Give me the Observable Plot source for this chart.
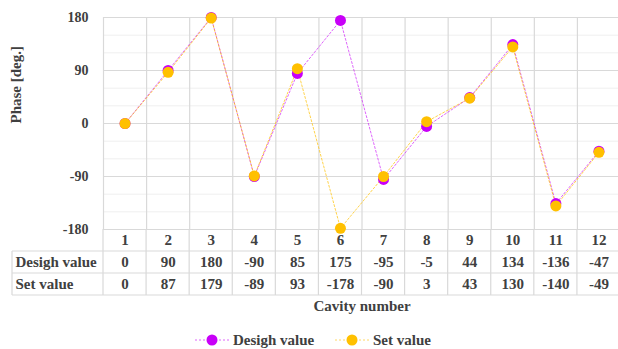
<!DOCTYPE html>
<html>
<head>
<meta charset="utf-8">
<script src="https://cdn.jsdelivr.net/npm/d3@7"></script>
<script src="https://cdn.jsdelivr.net/npm/@observablehq/plot@0.6"></script>
<style>
  html, body { margin: 0; padding: 0; background: #fff; }
  #chart svg { display: block; }
</style>
</head>
<body>
<div id="chart"></div>
<script>
const cavities = [1, 2, 3, 4, 5, 6, 7, 8, 9, 10, 11, 12];
const designValues = [0, 90, 180, -90, 85, 175, -95, -5, 44, 134, -136, -47];
const setValues = [0, 87, 179, -89, 93, -178, -90, 3, 43, 130, -140, -49];
const majorTicks = [-180, -90, 0, 90, 180];
const minorTicks = [-150, -120, -60, -30, 30, 60, 120, 150];
const seriesNames = ["Desigh value", "Set value"];
const yLabel = "Phase [deg.]";
const xLabel = "Cavity number";

const colors = { design: "#c800f8", set: "#ffc000" };
const textColor = "#404040";
const gridMajor = "#d9d9d9";
const gridMinor = "#efefef";
const font = "'Liberation Serif', 'Times New Roman', serif";

const data = cavities.map((c, i) => ({ cavity: c, design: designValues[i], set: setValues[i] }));
const boundaries = d3.range(0, cavities.length + 1).map(i => cavities[0] - 0.5 + i);

const W = 618, H = 349;
const marginLeft = 103, marginTop = 17, marginBottom = 120, marginRight = -2;
const rowH = 22;

const plot = Plot.plot({
  width: W,
  height: H,
  marginLeft, marginTop, marginBottom, marginRight,
  style: { fontFamily: font, fontWeight: "bold", color: textColor, background: "#fff", overflow: "visible" },
  x: { type: "linear", domain: [boundaries[0], boundaries[boundaries.length - 1]], axis: null },
  y: { domain: [-180, 180], axis: null },
  marks: [
    Plot.ruleY(minorTicks, { stroke: gridMinor, strokeWidth: 1 }),
    Plot.ruleY(majorTicks, { stroke: gridMajor, strokeWidth: 1.2 }),
    Plot.ruleX(boundaries, { y1: -180, y2: 180, stroke: gridMajor, strokeWidth: 1.2 }),
    Plot.axisY({ ticks: majorTicks, tickFormat: d => String(d), tickSize: 0, tickPadding: 15, fontSize: 14, fontWeight: "bold", fill: textColor, label: null }),
    Plot.line(data, { x: "cavity", y: "design", stroke: colors.design, strokeWidth: 1, strokeDasharray: "2,2", strokeOpacity: 0.6 }),
    Plot.line(data, { x: "cavity", y: "set", stroke: colors.set, strokeWidth: 1, strokeDasharray: "2,2", strokeOpacity: 0.7 }),
    Plot.dot(data, { x: "cavity", y: "design", r: 5.5, fill: colors.design }),
    Plot.dot(data, { x: "cavity", y: "set", r: 5.5, fill: colors.set }),
    Plot.text(data, { x: "cavity", text: d => String(d.cavity), frameAnchor: "bottom", lineAnchor: "middle", dy: 11, fontSize: 15, fontWeight: "bold", fill: textColor }),
    Plot.text(data, { x: "cavity", text: d => String(d.design), frameAnchor: "bottom", lineAnchor: "middle", dy: 11 + rowH, fontSize: 15, fontWeight: "bold", fill: textColor }),
    Plot.text(data, { x: "cavity", text: d => String(d.set), frameAnchor: "bottom", lineAnchor: "middle", dy: 11 + 2 * rowH, fontSize: 15, fontWeight: "bold", fill: textColor }),
    Plot.text([seriesNames[0]], { frameAnchor: "bottom-left", textAnchor: "start", lineAnchor: "middle", dx: -88, dy: 11 + rowH, fontSize: 15, fontWeight: "bold", fill: textColor }),
    Plot.text([seriesNames[1]], { frameAnchor: "bottom-left", textAnchor: "start", lineAnchor: "middle", dx: -88, dy: 11 + 2 * rowH, fontSize: 15, fontWeight: "bold", fill: textColor }),
    Plot.text([xLabel], { frameAnchor: "bottom", lineAnchor: "middle", dy: 77, fontSize: 15, fontWeight: "bold", fill: textColor }),
    Plot.text([yLabel], { frameAnchor: "left", lineAnchor: "middle", dx: -87, rotate: -90, fontSize: 15, fontWeight: "bold", fill: textColor })
  ]
});

// table frame lines (layout) using the plot's scales
const sx = plot.scale("x"), sy = plot.scale("y");
const svg = d3.select(plot);
const yBottom = sy.apply(-180);
const tableTop = yBottom + rowH;
const tableBottom = yBottom + 3 * rowH;
const tableLeft = 12;
const frame = svg.append("g").attr("stroke", gridMajor).attr("stroke-width", 1.2);
boundaries.forEach(b => {
  frame.append("line").attr("x1", sx.apply(b)).attr("x2", sx.apply(b)).attr("y1", yBottom).attr("y2", tableBottom);
});
frame.append("line").attr("x1", tableLeft).attr("x2", tableLeft).attr("y1", tableTop).attr("y2", tableBottom);
[tableTop, tableTop + rowH, tableBottom].forEach(y => {
  frame.append("line").attr("x1", tableLeft).attr("x2", W).attr("y1", y).attr("y2", y);
});

// legend
const legend = svg.append("g").attr("font-family", font).attr("font-weight", "bold").attr("font-size", 15).attr("fill", textColor);
const legendItems = [
  { name: seriesNames[0], color: colors.design, cx: 212 },
  { name: seriesNames[1], color: colors.set, cx: 352 }
];
const ly = 340;
legendItems.forEach(it => {
  legend.append("line").attr("x1", it.cx - 17).attr("x2", it.cx + 17).attr("y1", ly).attr("y2", ly)
    .attr("stroke", it.color).attr("stroke-width", 1).attr("stroke-dasharray", "2,2").attr("stroke-opacity", 0.6);
  legend.append("circle").attr("cx", it.cx).attr("cy", ly).attr("r", 5.5).attr("fill", it.color);
  legend.append("text").attr("x", it.cx + 21).attr("y", ly).attr("dy", "0.32em").attr("text-anchor", "start").text(it.name);
});

document.getElementById("chart").appendChild(plot);
</script>
</body>
</html>
